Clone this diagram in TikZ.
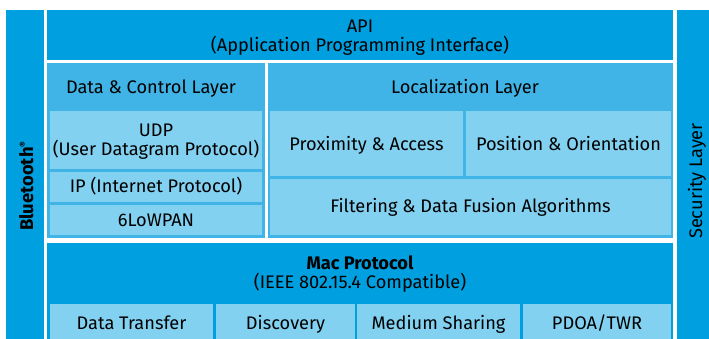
\documentclass[tikz,border=0pt]{standalone}
\usepackage{fontspec}
\setmainfont{Fira Sans}
\definecolor{dark}{HTML}{009FDF}
\definecolor{mid}{HTML}{40B4E6}
\definecolor{light}{HTML}{82D1F1}
\newcommand\blk[6]{\node[#6, minimum width={(#4-#2)*1pt}, minimum height={(#5-#3)*1pt}] (#1) at ({(#2+#4)/2},{(#3+#5)/2}) {};}
\tikzset{
  base/.style={inner sep=0pt, outer sep=0pt},
  darkbox/.style={base, fill=dark},
  midbox/.style={base, fill=mid},
  lightbox/.style={base, fill=light},
  txt/.style={inner sep=0pt, outer sep=0pt, align=center, anchor=base, text=black, font=\fontsize{18.2}{18.6}\selectfont}
}
\begin{document}
\begin{tikzpicture}[x=1pt,y=-1pt]
\useasboundingbox (0,0) rectangle (709,339);
\fill[white] (0,0) rectangle (709,339);
% side bars
\blk{bt}{6}{10}{44}{339}{darkbox}
\node[txt, rotate=90, font=\fontsize{18.4}{18.6}\selectfont\bfseries] (bttext) at (33,186) {Bluetooth\textsuperscript{\fontsize{9}{9}\selectfont\textregistered}};
\blk{sec}{677}{10}{709}{339}{darkbox}
\node[txt, rotate=90] (sectext) at (702,181) {Security Layer};
% API
\blk{api}{47}{10}{673}{60}{darkbox}
\node[txt] (apitext) at (360,51.3) {API\\(Application Programming Interface)};
% Data & Control layer
\blk{dcl}{47}{63}{265}{238}{midbox}
\node[txt] (dcltitle) at (151,93.5) {Data \& Control Layer};
\blk{udp}{50}{111}{262}{169}{lightbox}
\node[txt] (udptext) at (156,155.2) {UDP\\(User Datagram Protocol)};
\blk{ip}{50}{172}{262}{202}{lightbox}
\node[txt] (iptext) at (156,192.7) {IP (Internet Protocol)};
\blk{low}{50}{205}{262}{235}{lightbox}
\node[txt] (lowtext) at (156,226.7) {6LoWPAN};
% Localization layer
\blk{loc}{268}{63}{673}{238}{midbox}
\node[txt] (loctitle) at (465,93.5) {Localization Layer};
\blk{prox}{270}{111}{463}{176}{lightbox}
\node[txt] (proxtext) at (366.5,150.7) {Proximity \& Access};
\blk{pos}{466}{111}{671}{176}{lightbox}
\node[txt] (postext) at (568.5,150.7) {Position \& Orientation};
\blk{filt}{270}{179}{671}{235}{lightbox}
\node[txt] (filttext) at (470.5,212) {Filtering \& Data Fusion Algorithms};
% Mac protocol
\blk{mac}{47}{243}{673}{339}{darkbox}
\node[txt] (mactitle) at (360,288.3) {\textbf{Mac Protocol}\\(IEEE 802.15.4 Compatible)};
\blk{dt}{50}{304}{213}{339}{lightbox}
\node[txt] (dttext) at (131.5,329.5) {Data Transfer};
\blk{disc}{216}{304}{355}{339}{lightbox}
\node[txt] (disctext) at (285.5,329.5) {Discovery};
\blk{med}{357}{304}{520}{339}{lightbox}
\node[txt] (medtext) at (438.5,329.5) {Medium Sharing};
\blk{pdoa}{523}{304}{671}{339}{lightbox}
\node[txt] (pdoatext) at (597,329.5) {PDOA/TWR};
\end{tikzpicture}
\end{document}
